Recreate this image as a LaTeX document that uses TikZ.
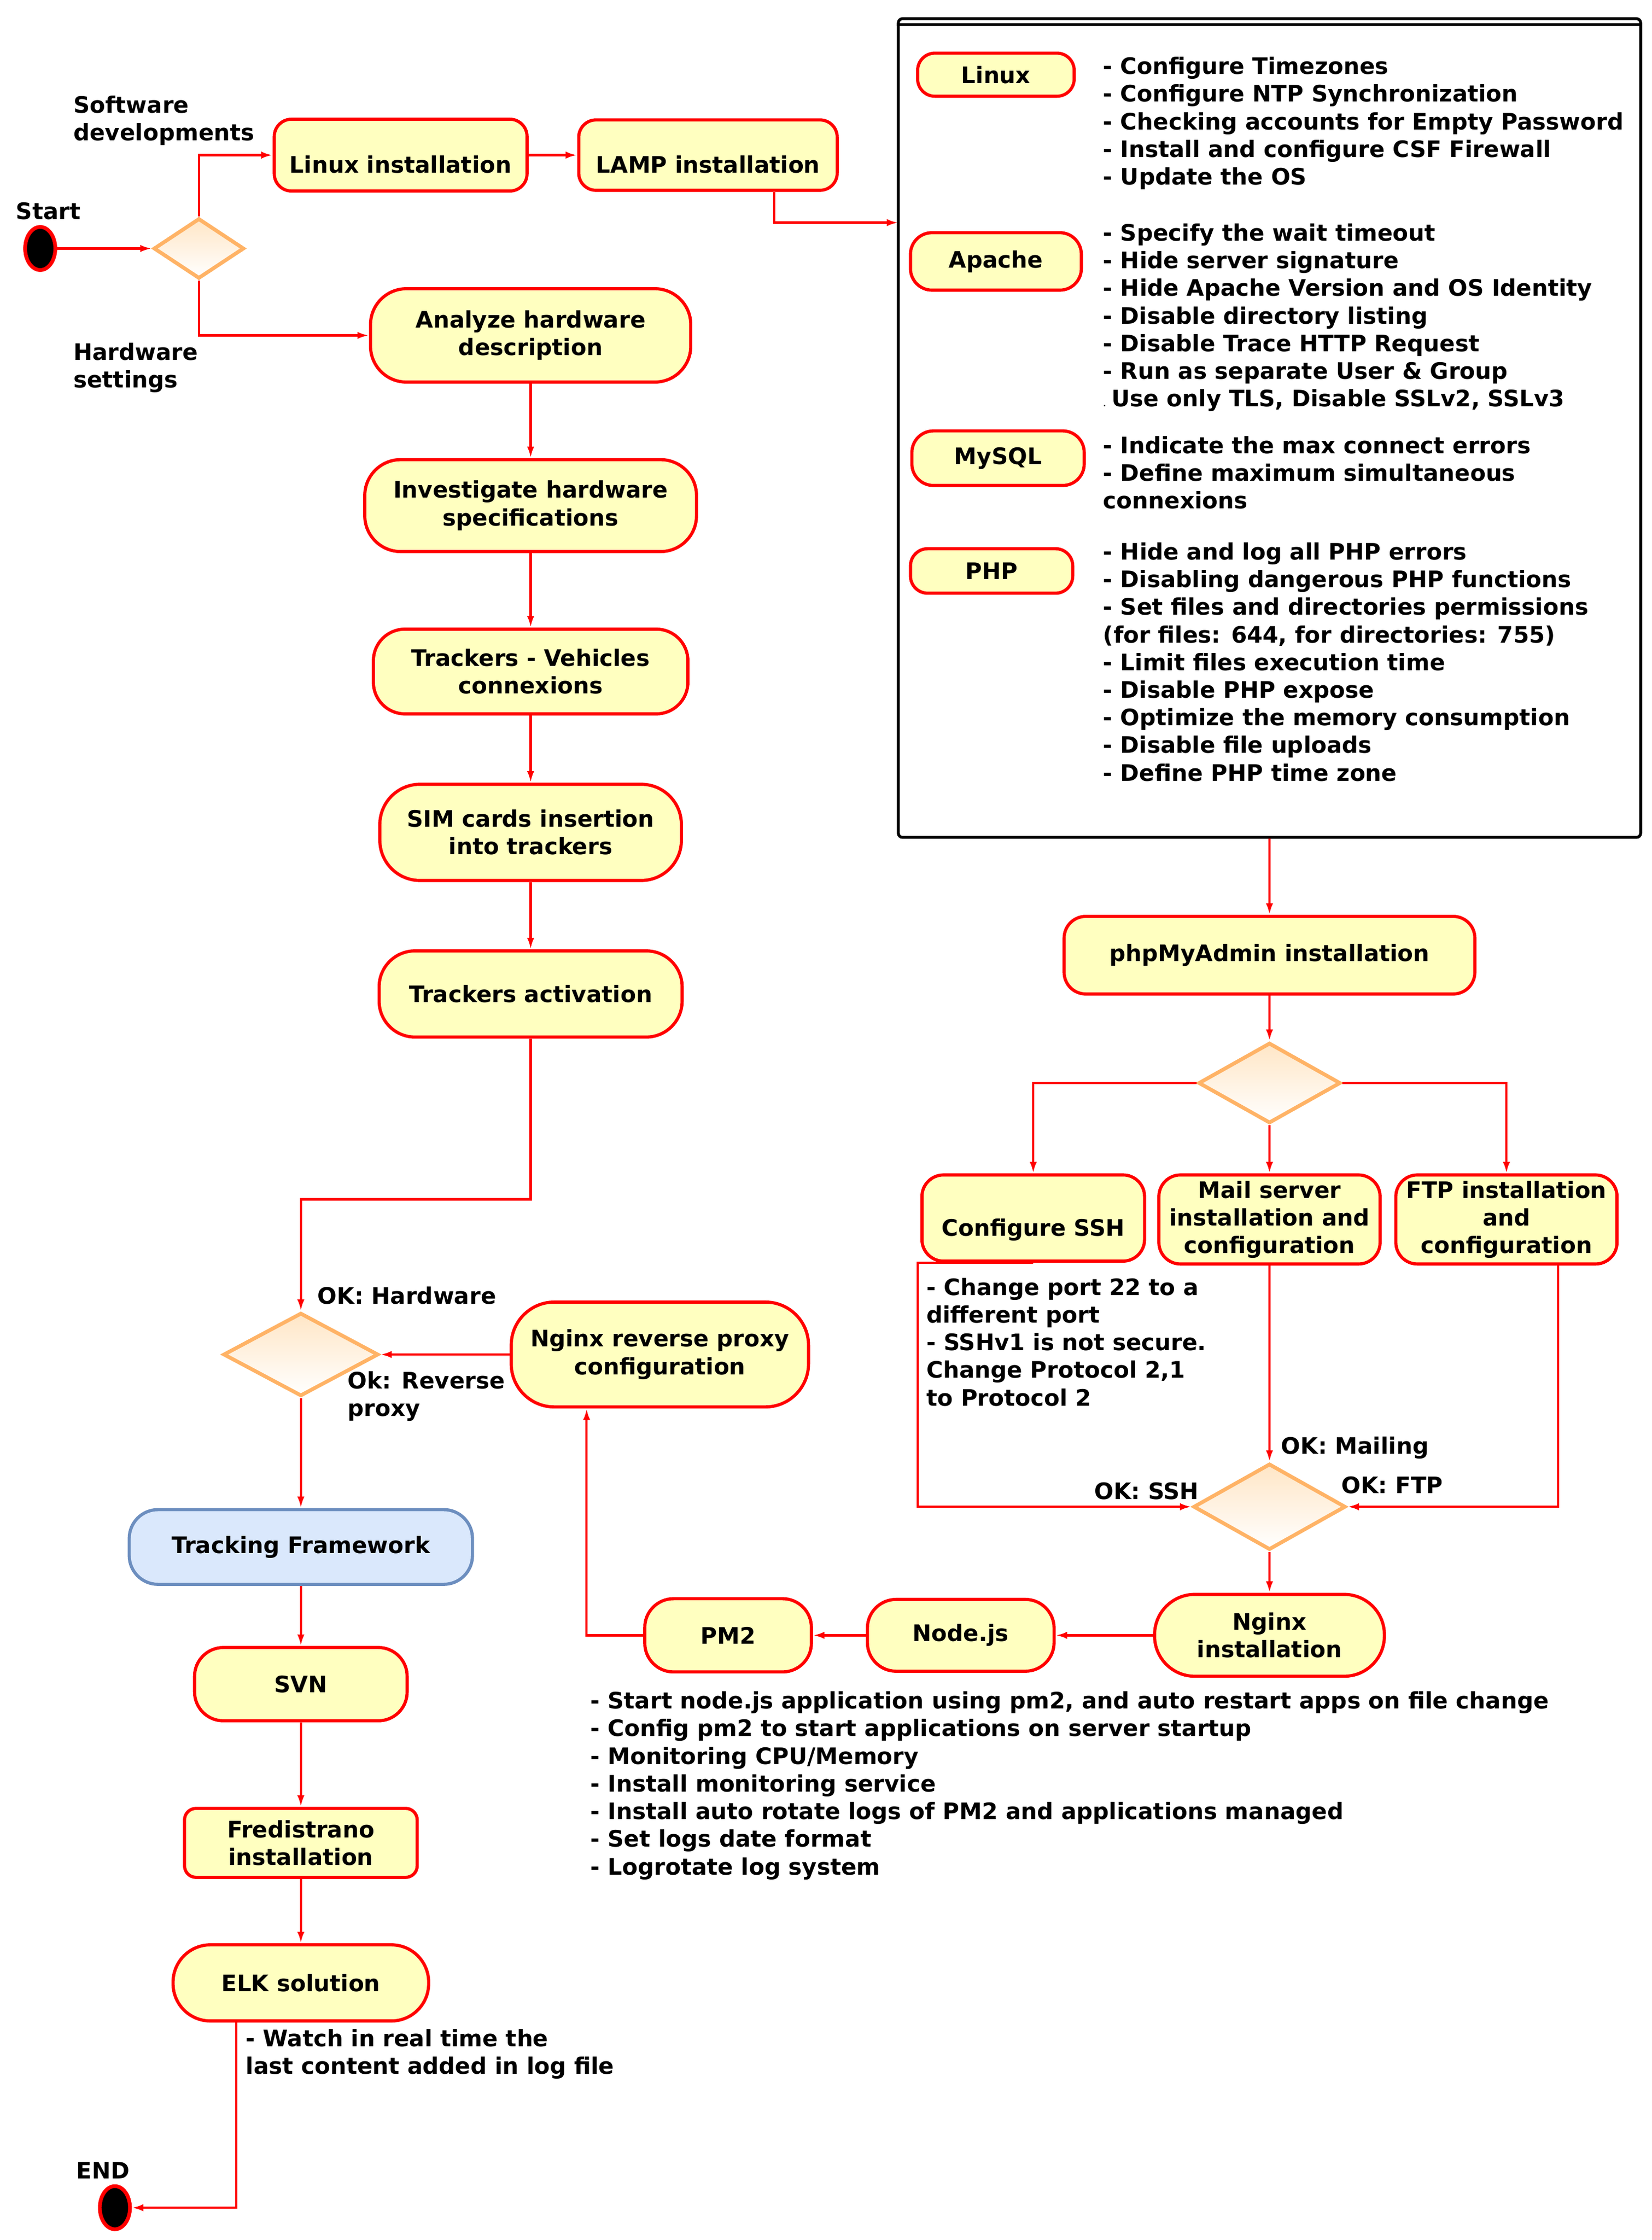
\documentclass[tikz,border=0pt]{standalone}
\usepackage{fontspec}
\setmainfont{DejaVu Sans}
\usepackage{tikz}
\usetikzlibrary{shapes.geometric,arrows.meta}

\definecolor{actfill}{HTML}{FFFFC0}
\definecolor{actline}{HTML}{FF0000}
\definecolor{decline}{HTML}{FFB366}
\definecolor{dectop}{HTML}{FFE6C6}
\definecolor{frfill}{HTML}{DAE8FC}
\definecolor{frline}{HTML}{6C8EBF}

\tikzset{
  act/.style={draw=actline, fill=actfill, line width=2.2pt, align=center, inner sep=0pt},
  lowtext/.style={text height=25pt, text depth=0pt},
  dec/.style={diamond, draw=decline, line width=2.6pt, top color=dectop, bottom color=white, inner sep=0pt},
  flow/.style={draw=actline, line width=1.6pt, -{Latex[length=8pt,width=5pt]}},
  dot/.style={ellipse, draw=actline, fill=black, line width=2.6pt, minimum width=21pt, minimum height=30pt},
  txt/.style={align=left, inner sep=0pt}
}

\begin{document}
\begin{tikzpicture}[x=1pt, y=-1pt, font=\bfseries\fontsize{15.8pt}{19.25pt}\selectfont]
        \useasboundingbox (0,0) rectangle (1150,1559.5);

        \node[dot] (start) at (28,173) {};
        \node[txt, anchor=west] (startlbl) at (11,147) {Start};
        \node[dec, minimum width=63pt, minimum height=42pt] (d1) at (138.5,173) {};
        \node[txt, anchor=north west] (swlbl) at (51,66.5) {Software\\developments};
        \node[txt, anchor=north west] (hwlbl) at (51,238.5) {Hardware\\settings};

        \node[act, lowtext, rounded corners=12pt, minimum width=176pt, minimum height=50pt] (linux) at (279,108) {Linux installation};
        \node[act, lowtext, rounded corners=12pt, minimum width=180pt, minimum height=49pt] (lamp) at (493,108) {LAMP installation};

        % hardening box
        \node[draw, line width=2pt, rounded corners=3pt, minimum width=517pt, minimum height=570pt, inner sep=0pt] (cfg) at (884,298) {};
        \draw[line width=2pt] ([yshift=-5pt]cfg.north west) -- ([yshift=-5pt]cfg.north east);
        \coordinate (cfgin) at (625.5,155);

        \node[act, rounded corners=12pt, minimum width=109pt, minimum height=30pt] (linuxk) at (693.5,52) {Linux};
        \node[txt, anchor=north west] (linuxlist) at (768,39.5) {- Configure Timezones\\- Configure NTP Synchronization\\- Checking accounts for Empty Password\\- Install and configure CSF Firewall\\- Update the OS};
        \node[act, rounded corners=15pt, minimum width=119pt, minimum height=40pt] (apache) at (693.5,182) {Apache};
        \node[txt, anchor=north west] (apachelist) at (768,155.5) {- Specify the wait timeout\\- Hide server signature\\- Hide Apache Version and OS Identity\\- Disable directory listing\\- Disable Trace HTTP Request\\- Run as separate User \& Group\\{\tiny.}\hspace{4pt}Use only TLS, Disable SSLv2, SSLv3};
        \node[act, rounded corners=15pt, minimum width=120pt, minimum height=38pt] (mysql) at (695,319) {MySQL};
        \node[txt, anchor=north west] (mysqllist) at (768,303.5) {- Indicate the max connect errors\\- Define maximum simultaneous\\connexions};
        \node[act, rounded corners=12pt, minimum width=113pt, minimum height=31pt] (phpk) at (690.5,397.5) {PHP};
        \node[txt, anchor=north west] (phplist) at (768,377.5) {- Hide and log all PHP errors\\- Disabling dangerous PHP functions\\- Set files and directories permissions\\(for files: 644, for directories: 755)\\- Limit files execution time\\- Disable PHP expose\\- Optimize the memory consumption\\- Disable file uploads\\- Define PHP time zone};

        \node[act, rounded corners=15pt, minimum width=286pt, minimum height=54pt] (pma) at (884,665) {phpMyAdmin installation};
        \node[dec, minimum width=99pt, minimum height=56pt] (d2) at (884,754) {};
        \node[act, lowtext, rounded corners=15pt, minimum width=155pt, minimum height=60pt] (ssh) at (719.5,848) {Configure SSH};
        \node[act, rounded corners=15pt, minimum width=154pt, minimum height=62pt] (mail) at (884,849) {Mail server\\installation and\\configuration};
        \node[act, rounded corners=15pt, minimum width=154pt, minimum height=62pt] (ftp) at (1049,849) {FTP installation\\and\\configuration};
        \node[txt, anchor=north west] (sshnote) at (645,889.5) {- Change port 22 to a\\different port\\- SSHv1 is not secure.\\Change Protocol 2,1\\to Protocol 2};
        \coordinate (sshbend) at (639,1049);

        \node[dec, minimum width=106pt, minimum height=60pt] (d3) at (884,1049) {};
        \node[txt, anchor=east] (sshok) at (835,1038) {OK: SSH};
        \node[txt, anchor=west] (mailok) at (892,1008) {OK: Mailing};
        \node[txt, anchor=west] (ftpok) at (934,1034) {OK: FTP};

        \node[act, rounded corners=28pt, minimum width=160pt, minimum height=57pt] (nginx) at (884,1138.5) {Nginx\\installation};
        \node[act, rounded corners=20pt, minimum width=130pt, minimum height=50pt] (nodejs) at (669,1138.5) {Node.js};
        \node[act, rounded corners=20pt, minimum width=116pt, minimum height=51pt] (pm2) at (507,1138.5) {PM2};
        \node[txt, anchor=north west] (pm2list) at (411,1177.5) {- Start node.js application using pm2, and auto restart apps on file change\\- Config pm2 to start applications on server startup\\- Monitoring CPU/Memory\\- Install monitoring service\\- Install auto rotate logs of PM2 and applications managed\\- Set logs date format\\- Logrotate log system};
        \node[act, rounded corners=30pt, minimum width=207pt, minimum height=73pt] (rproxy) at (459.5,943) {Nginx reverse proxy\\configuration};

        \node[act, rounded corners=25pt, minimum width=223pt, minimum height=65pt] (analyze) at (369.5,233.5) {Analyze hardware\\description};
        \node[act, rounded corners=25pt, minimum width=231pt, minimum height=64pt] (invest) at (369.5,352) {Investigate hardware\\specifications};
        \node[act, rounded corners=22pt, minimum width=219pt, minimum height=59pt] (trackers) at (369.5,467.5) {Trackers - Vehicles\\connexions};
        \node[act, rounded corners=28pt, minimum width=210pt, minimum height=67pt] (sim) at (369.5,579.5) {SIM cards insertion\\into trackers};
        \node[act, rounded corners=25pt, minimum width=211pt, minimum height=60pt] (actv) at (369.5,692) {Trackers activation};
        \coordinate (actbend) at (369.5,835);

        \node[dec, minimum width=108pt, minimum height=58pt] (d4) at (209.5,943) {};
        \node[txt, anchor=west] (hwok) at (221,902) {OK: Hardware};
        \node[txt, anchor=north west] (rpok) at (242,954.5) {Ok: Reverse\\proxy};

        \node[act, draw=frline, fill=frfill, rounded corners=20pt, minimum width=239pt, minimum height=52pt] (track) at (209.5,1077) {Tracking Framework};
        \node[act, rounded corners=20pt, minimum width=148pt, minimum height=51pt] (svn) at (209.5,1172.5) {SVN};
        \node[act, rounded corners=8pt, minimum width=162pt, minimum height=48pt] (fred) at (209.5,1283) {Fredistrano\\installation};
        \node[act, rounded corners=26pt, minimum width=178pt, minimum height=53pt] (elk) at (209.5,1380.5) {ELK solution};
        \node[txt, anchor=north west] (elknote) at (171,1412.5) {- Watch in real time the\\last content added in log file};
        \node[dot] (end) at (80,1537) {};
        \node[txt, anchor=west] (endlbl) at (53,1511) {END};

        \draw[flow] (start) -- (d1);
        \draw[flow] (d1.north) |- (linux.west);
        \draw[flow] (d1.south) |- (analyze.west);
        \draw[flow] (linux) -- (lamp);
        \draw[flow] ([xshift=46pt]lamp.south) |- (cfgin);
        \draw[flow] (cfg.south) -- (pma.north);
        \draw[flow] (pma) -- (d2);
        \draw[flow] (d2.west) -| (ssh.north);
        \draw[flow] (d2.south) -- (mail.north);
        \draw[flow] (d2.east) -| (ftp.north);
        \draw[flow] (ssh.south) -| (sshbend) -- (d3.west);
        \draw[flow] (mail.south) -- (d3.north);
        \draw[flow] ([xshift=36pt]ftp.south) |- (d3.east);
        \draw[flow] (d3.south) -- (nginx.north);
        \draw[flow] (nginx) -- (nodejs);
        \draw[flow] (nodejs) -- (pm2);
        \draw[flow] (pm2.west) -| ([xshift=-51pt]rproxy.south);
        \draw[flow] (rproxy) -- (d4.east);

        \draw[flow] (analyze) -- (invest);
        \draw[flow] (invest) -- (trackers);
        \draw[flow] (trackers) -- (sim);
        \draw[flow] (sim) -- (actv);
        \draw[flow] (actv.south) -- (actbend) -| (d4.north);
        \draw[flow] (d4.south) -- (track.north);
        \draw[flow] (track) -- (svn);
        \draw[flow] (svn) -- (fred);
        \draw[flow] (fred) -- (elk);
        \draw[flow] ([xshift=-45pt]elk.south) |- (end);
\end{tikzpicture}
\end{document}
